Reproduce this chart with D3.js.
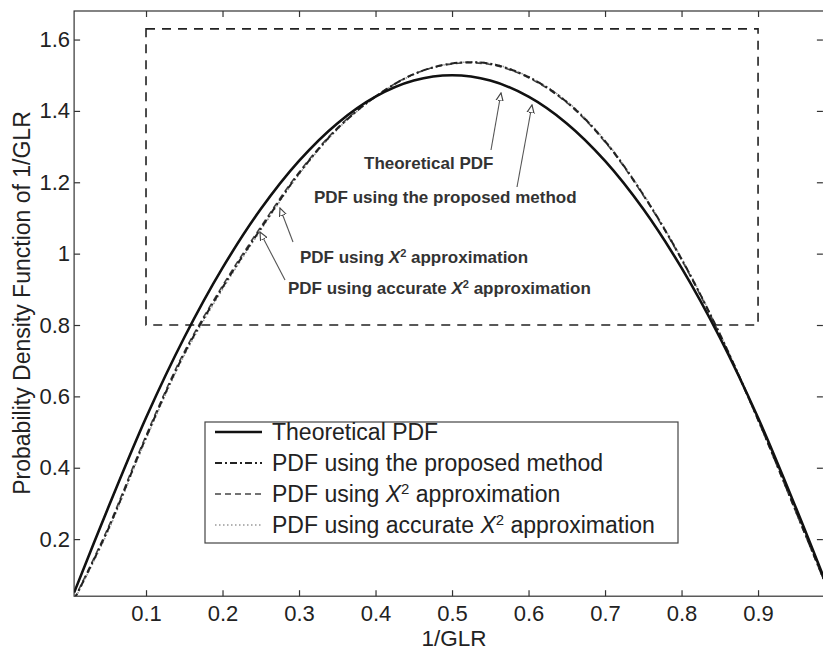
<!DOCTYPE html>
<html>
<head>
<meta charset="utf-8">
<script src="https://cdn.jsdelivr.net/npm/d3@7"></script>
<style>
  html, body { margin: 0; padding: 0; background: #fff; }
  svg { display: block; font-family: "Liberation Sans", Arial, sans-serif; }
</style>
</head>
<body>
<svg id="chart" width="823" height="653"></svg>
<script>
// ---- data ----
const xValues = [0.006, 0.05, 0.1, 0.15, 0.2, 0.25, 0.3, 0.35, 0.4, 0.45, 0.5, 0.55, 0.6, 0.65, 0.7, 0.75, 0.8, 0.85, 0.9, 0.95, 0.99];
const theoretical = [0.05, 0.285, 0.54, 0.765, 0.96, 1.125, 1.26, 1.365, 1.44, 1.485, 1.50, 1.485, 1.44, 1.365, 1.26, 1.125, 0.96, 0.765, 0.54, 0.285, 0.07];
const proposed    = [0.03, 0.225, 0.485, 0.72, 0.905, 1.07, 1.225, 1.35, 1.44, 1.503, 1.533, 1.532, 1.495, 1.425, 1.315, 1.165, 0.985, 0.775, 0.535, 0.275, 0.065];
const chi2Approx  = [0.032, 0.23, 0.49, 0.725, 0.91, 1.075, 1.228, 1.352, 1.441, 1.503, 1.532, 1.53, 1.493, 1.423, 1.313, 1.163, 0.983, 0.773, 0.533, 0.273, 0.064];
const chi2Accurate= [0.028, 0.22, 0.48, 0.715, 0.90, 1.066, 1.222, 1.348, 1.439, 1.502, 1.533, 1.533, 1.496, 1.427, 1.317, 1.167, 0.987, 0.777, 0.537, 0.277, 0.066];
const xTicks = [0.1, 0.2, 0.3, 0.4, 0.5, 0.6, 0.7, 0.8, 0.9];
const yTicks = [0.2, 0.4, 0.6, 0.8, 1.0, 1.2, 1.4, 1.6];
const seriesNames = ["Theoretical PDF", "PDF using the proposed method", "PDF using X2 approximation", "PDF using accurate X2 approximation"];
const zoomBox = { x0: 0.1, x1: 0.9, y0: 0.8, y1: 1.63 };

// ---- layout ----
const svg = d3.select("#chart");
const x = d3.scaleLinear().domain([0.006, 0.99]).range([74.1, 826.9]);
const y = d3.scaleLinear().domain([0.04, 1.68]).range([596.2, 11.0]);
const axisColor = "#333";
const fontFam = '"Liberation Sans", Arial, sans-serif';

// frame
svg.append("rect")
  .attr("x", x.range()[0]).attr("y", y.range()[1])
  .attr("width", x.range()[1] - x.range()[0]).attr("height", y.range()[0] - y.range()[1])
  .attr("fill", "none").attr("stroke", axisColor).attr("stroke-width", 1.2);

// axes
function styleAxis(g) {
  g.select(".domain").remove();
  g.selectAll(".tick line").attr("stroke", axisColor).attr("stroke-width", 1.2);
  g.selectAll(".tick text").attr("fill", "#222").attr("font-size", 22).attr("font-family", fontFam);
}
svg.append("g").attr("transform", `translate(0,${y.range()[0]})`)
  .call(d3.axisBottom(x).tickValues(xTicks).tickSize(-6).tickPadding(9).tickFormat(d3.format("")))
  .call(styleAxis);
svg.append("g").attr("transform", `translate(0,${y.range()[1]})`)
  .call(d3.axisTop(x).tickValues(xTicks).tickSize(-6).tickFormat(""))
  .call(styleAxis);
svg.append("g").attr("transform", `translate(${x.range()[0]},0)`)
  .call(d3.axisLeft(y).tickValues(yTicks).tickSize(-6).tickPadding(4).tickFormat(d3.format("")))
  .call(styleAxis);
svg.append("g").attr("transform", `translate(${x.range()[1] - 4},0)`)
  .call(d3.axisRight(y).tickValues(yTicks).tickSize(-6).tickFormat(""))
  .call(styleAxis);

// axis labels
svg.append("text").attr("x", 454).attr("y", 646).attr("text-anchor", "middle")
  .attr("font-size", 22.5).attr("fill", "#222").text("1/GLR");
svg.append("text").attr("transform", "translate(30,303) rotate(-90)").attr("text-anchor", "middle")
  .attr("font-size", 23).attr("fill", "#222").text("Probability Density Function of 1/GLR");

// zoom dashed box
svg.append("rect")
  .attr("x", x(zoomBox.x0)).attr("y", y(zoomBox.y1))
  .attr("width", x(zoomBox.x1) - x(zoomBox.x0)).attr("height", y(zoomBox.y0) - y(zoomBox.y1))
  .attr("fill", "none").attr("stroke", "#222").attr("stroke-width", 1.6).attr("stroke-dasharray", "9,7");

// curves
svg.append("clipPath").attr("id", "clip").append("rect")
  .attr("x", x.range()[0]).attr("y", y.range()[1])
  .attr("width", x.range()[1] - x.range()[0]).attr("height", y.range()[0] - y.range()[1]);
const line = d3.line().x(d => x(d[0])).y(d => y(d[1])).curve(d3.curveCatmullRom.alpha(0.5));
const styles = [
  { data: theoretical,  stroke: "#111", width: 2.6, dash: null },
  { data: proposed,     stroke: "#222", width: 2.0, dash: "7,3,2,3" },
  { data: chi2Approx,   stroke: "#444", width: 1.6, dash: "6,4" },
  { data: chi2Accurate, stroke: "#999", width: 1.6, dash: "1.5,2.5" }
];
const curvesG = svg.append("g").attr("clip-path", "url(#clip)");
[3, 2, 1, 0].forEach(i => {
  const s = styles[i];
  curvesG.append("path")
    .datum(xValues.map((xv, k) => [xv, s.data[k]]))
    .attr("d", line).attr("fill", "none")
    .attr("stroke", s.stroke).attr("stroke-width", s.width)
    .attr("stroke-dasharray", s.dash);
});

// legend
const legend = svg.append("g");
legend.append("rect").attr("x", 205).attr("y", 422).attr("width", 473).attr("height", 121)
  .attr("fill", "#fff").attr("stroke", "#444").attr("stroke-width", 1.2);
const rowY = [432, 463, 494, 525];
function addLabel(sel, name) {
  const parts = name.split("X2");
  sel.append("tspan").text(parts[0]);
  if (parts.length > 1) {
    sel.append("tspan").attr("font-style", "italic").text("X");
    sel.append("tspan").attr("font-size", "0.65em").attr("dy", "-0.55em").text("2");
    sel.append("tspan").attr("dy", "0.36em").text(parts[1]);
  }
}
seriesNames.forEach((name, i) => {
  const s = styles[i];
  legend.append("line").attr("x1", 215).attr("x2", 262).attr("y1", rowY[i]).attr("y2", rowY[i])
    .attr("stroke", s.stroke).attr("stroke-width", s.width).attr("stroke-dasharray", s.dash);
  const t = legend.append("text").attr("x", 272).attr("y", rowY[i] + 8)
    .attr("font-size", 23).attr("fill", "#222");
  addLabel(t, name);
});

// annotations with arrows
const defs = svg.append("defs");
defs.append("marker").attr("id", "arrow").attr("viewBox", "0 0 10 10").attr("refX", 9).attr("refY", 5)
  .attr("markerWidth", 8).attr("markerHeight", 8).attr("orient", "auto-start-reverse")
  .append("path").attr("d", "M0,1 L9,5 L0,9 Z").attr("fill", "#fff").attr("stroke", "#444").attr("stroke-width", 1.3);
const annotations = [
  { name: seriesNames[0], tx: 364, ty: 169, ax0: 491, ay0: 150, ax1: 501, ay1: 93 },
  { name: seriesNames[1], tx: 314, ty: 203, ax0: 517, ay0: 187, ax1: 532, ay1: 105 },
  { name: seriesNames[2], tx: 300, ty: 263, ax0: 293, ay0: 242, ax1: 280, ay1: 208 },
  { name: seriesNames[3], tx: 288, ty: 294, ax0: 285, ay0: 280, ax1: 260, ay1: 232 }
];
annotations.forEach(a => {
  svg.append("line").attr("x1", a.ax0).attr("y1", a.ay0).attr("x2", a.ax1).attr("y2", a.ay1)
    .attr("stroke", "#555").attr("stroke-width", 1.1).attr("marker-end", "url(#arrow)");
  const t = svg.append("text").attr("x", a.tx).attr("y", a.ty)
    .attr("font-size", 17).attr("font-weight", "bold").attr("fill", "#333");
  addLabel(t, a.name);
});
</script>
</body>
</html>
